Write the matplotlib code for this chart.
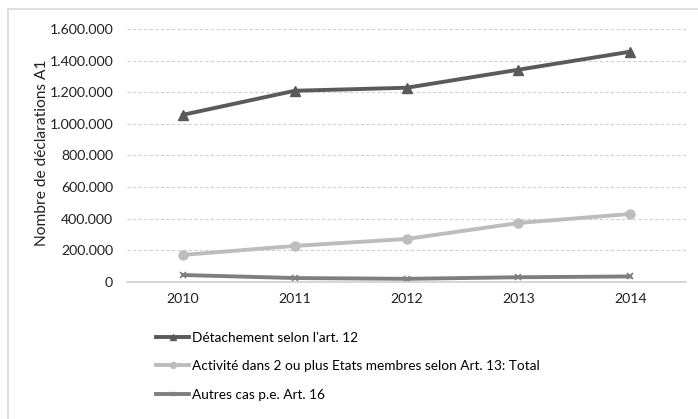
import matplotlib
matplotlib.use("Agg")
import matplotlib.pyplot as plt
from matplotlib.ticker import FuncFormatter
from matplotlib.patches import Rectangle

# données
annees = ["2010", "2011", "2012", "2013", "2014"]
detachement = [1057000, 1209000, 1228000, 1342000, 1456000]
activite = [171000, 228000, 272000, 373000, 430000]
autres = [44000, 25000, 20000, 30000, 35000]
noms = ["Détachement selon l'art. 12",
        "Activité dans 2 ou plus Etats membres selon Art. 13: Total",
        "Autres cas p.e. Art. 16"]

plt.rcParams["font.family"] = ["Lato", "DejaVu Sans"]

fig = plt.figure(figsize=(6.98, 4.19), dpi=100)
ax = fig.add_axes([0.182, 0.327, 0.801, 0.604])

x = range(len(annees))
ax.plot(x, detachement, color="#5a5a5a", lw=2.8, marker="^", ms=6.5, label=noms[0])
ax.plot(x, activite, color="#bdbdbd", lw=2.8, marker="o", ms=6.5, label=noms[1])
ax.plot(x, autres, color="#7f7f7f", lw=2.8, marker="x", ms=5, mew=1.2, label=noms[2])

ax.set_xlim(-0.5, len(annees) - 0.5)
ax.set_ylim(0, 1600000)
ax.set_yticks(range(0, 1600001, 200000))
ax.yaxis.set_major_formatter(FuncFormatter(lambda v, p: "{:,.0f}".format(v).replace(",", ".")))
ax.set_xticks(list(x))
ax.set_xticklabels(annees)
ax.tick_params(length=0, labelsize=10.2, colors="#222222")
ax.tick_params(axis="x", pad=8)
ax.tick_params(axis="y", pad=10)
ax.grid(axis="y", color="#d0d0d0", ls=(0, (3, 2)), lw=0.8)
ax.set_axisbelow(True)
for s in ["top", "right", "left"]:
    ax.spines[s].set_visible(False)
ax.spines["bottom"].set_color("#d0d0d0")
ax.spines["bottom"].set_linewidth(1.2)

fig.text(0.06, 0.635, "Nombre de déclarations A1", rotation=90, ha="center", va="center",
         fontsize=11.2, color="#222222")

leg = fig.legend(loc="upper left", bbox_to_anchor=(0.224, 0.208), frameon=False,
                 fontsize=9.8, handlelength=2.4, handletextpad=0.2, labelspacing=1.2,
                 borderaxespad=0, borderpad=0, markerscale=0.65)

# cadre extérieur
fig.patches.append(Rectangle((0.012, -0.01), 0.99, 0.988, transform=fig.transFigure,
                             fill=False, ec="#d9d9d9", lw=1.2))

fig.savefig("out.png", dpi=100)
